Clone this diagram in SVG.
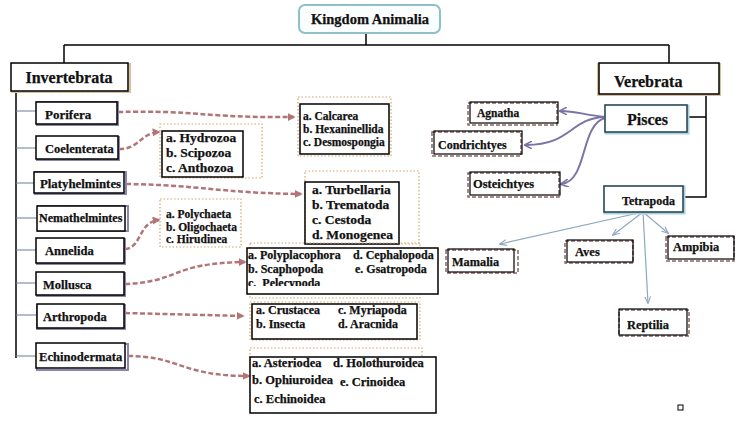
<svg xmlns="http://www.w3.org/2000/svg" width="747" height="429" viewBox="0 0 747 429">
<defs>
<style>
text{font-family:"Liberation Serif","Times New Roman",serif;font-weight:bold;fill:#111;stroke:#111;stroke-width:0.25}
.box{fill:#fff;stroke:#000;stroke-width:1.5}
.shadowP{fill:none;stroke:#8b87aa;stroke-width:2}
.shadowO{fill:none;stroke:#dcc09a;stroke-width:2}
.dot{fill:none;stroke:#d8a36a;stroke-width:1.2;stroke-dasharray:1.5 2}
.dash{fill:none;stroke:#b27577;stroke-width:2.5;stroke-dasharray:5 2.5}
.pur{fill:none;stroke:#7c72a6;stroke-width:2}
.blu{fill:none;stroke:#8ea8c0;stroke-width:1.2}
.tree{fill:none;stroke:#000;stroke-width:1.5}
.br{fill:none;stroke:#6c7a98;stroke-width:1.2}
.cls{fill:none;stroke:#8a6464;stroke-width:1.5;stroke-dasharray:4 2}
.fish{fill:#fff;stroke:#1f3f50;stroke-width:1.5}
.fishS{fill:none;stroke:#a9d2de;stroke-width:3}
</style>
<marker id="ad" viewBox="0 0 10 10" refX="8" refY="5" markerWidth="3.2" markerHeight="3.2" orient="auto" markerUnits="strokeWidth">
<path d="M0,0 L10,5 L0,10 z" fill="#b27577"/>
</marker>
<marker id="ap" viewBox="0 0 10 10" refX="8" refY="5" markerWidth="4" markerHeight="4" orient="auto" markerUnits="strokeWidth">
<path d="M0,0 L10,5 L0,10" fill="none" stroke="#7c72a6" stroke-width="2"/>
</marker>
<marker id="ab" viewBox="0 0 10 10" refX="9" refY="5" markerWidth="6" markerHeight="6" orient="auto" markerUnits="strokeWidth">
<path d="M0,1 L10,5 L0,9" fill="none" stroke="#8ea8c0" stroke-width="1.5"/>
</marker>
<clipPath id="clipMol"><rect x="240" y="240" width="200" height="46"/></clipPath>
</defs>

<g id="connectors">
<path class="tree" d="M366,33 V45 M64,45 H669 M64,45 V63 M669,45 V63"/>
<path class="tree" d="M16,91 V358"/>
<path class="br" d="M16,111 H36 M16,148 H36 M16,183 H34 M16,218 H37 M16,250 H36 M16,283 H36 M16,315 H37 M16,356 H36"/>
<path class="tree" d="M719,94 H706 V197 H684 M706,117 H688"/>
<path class="dash" marker-end="url(#ad)" d="M118,112 C200,110 200,118 294,117"/>
<path class="dash" marker-end="url(#ad)" d="M119,149 C140,149 140,133 159,132"/>
<path class="dash" marker-end="url(#ad)" d="M126,184 C200,185 220,193 301,194"/>
<path class="dash" marker-end="url(#ad)" d="M125,249 C142,248 138,222 159,220"/>
<path class="dash" marker-end="url(#ad)" d="M125,284 C180,282 170,263 245,262"/>
<path class="dash" marker-end="url(#ad)" d="M125,313 L243,316"/>
<path class="dash" marker-end="url(#ad)" d="M128,356 C180,356 180,376 249,376"/>
<path class="pur" marker-end="url(#ap)" d="M605,117 C585,115 575,111 561,111"/>
<path class="pur" marker-end="url(#ap)" d="M605,117 C570,118 572,145 526,145"/>
<path class="pur" marker-end="url(#ap)" d="M605,118 C580,125 588,180 562,184"/>
<path class="blu" marker-end="url(#ab)" d="M643,212 L500,244"/>
<path class="blu" marker-end="url(#ab)" d="M643,212 L613,235"/>
<path class="blu" marker-end="url(#ab)" d="M643,212 L648,303"/>
<path class="blu" marker-end="url(#ab)" d="M643,212 L668,233"/>
</g>

<g id="kingdom">
<rect x="299" y="5" width="141" height="28" rx="6" fill="#fbfefe" stroke="#8fbfcb" stroke-width="2"/>
<text x="370" y="24" text-anchor="middle" font-size="14.5">Kingdom Animalia</text>
</g>

<g id="invertebrata">
<rect class="shadowO" x="12" y="64" width="118" height="28"/>
<rect class="box" x="11" y="63" width="117" height="28"/>
<text x="69" y="83" text-anchor="middle" font-size="16">Invertebrata</text>
</g>

<g id="porifera"><rect class="shadowP" x="37" y="102" width="81" height="23"/><rect class="box" x="36" y="102" width="81" height="22"/><text x="45" y="119" font-size="13">Porifera</text></g>
<g id="coelenterata"><rect class="shadowP" x="37" y="137" width="82" height="23"/><rect class="box" x="36" y="136" width="82" height="23"/><text x="45" y="153" font-size="12.5">Coelenterata</text></g>
<g id="platyhelmintes"><rect class="shadowP" x="35" y="172" width="91" height="22"/><rect class="box" x="34" y="172" width="90" height="21"/><text x="40" y="188" font-size="12.8">Platyhelmintes</text></g>
<g id="nemathelmintes"><rect class="shadowP" x="38" y="206" width="90" height="25"/><rect class="box" x="37" y="206" width="88" height="25"/><text x="39" y="222" font-size="12">Nemathelmintes</text></g>
<g id="annelida"><rect class="shadowP" x="37" y="239" width="88" height="25"/><rect class="box" x="36" y="238" width="88" height="25"/><text x="45" y="255" font-size="12.5">Annelida</text></g>
<g id="mollusca"><rect class="shadowP" x="37" y="273" width="88" height="23"/><rect class="box" x="36" y="272" width="88" height="23"/><text x="43" y="289" font-size="12.5">Mollusca</text></g>
<g id="arthropoda"><rect class="shadowP" x="37" y="305" width="88" height="24"/><rect class="box" x="37" y="304" width="87" height="24"/><text x="43" y="321" font-size="12.5">Arthropoda</text></g>
<g id="echinodermata"><rect class="shadowP" x="37" y="344" width="91" height="26"/><rect class="box" x="36" y="343" width="89" height="25"/><text x="39" y="361" font-size="12.6">Echinodermata</text></g>

<g id="porifera-classes">
<rect class="dot" x="298" y="97" width="93" height="59"/>
<rect class="box" x="300" y="104" width="89" height="50"/>
<text x="303" y="120" font-size="11.5">a. Calcarea</text>
<text x="303" y="133" font-size="11.5">b. Hexaninellida</text>
<text x="303" y="146" font-size="11.5">c. Desmospongia</text>
</g>
<g id="coelenterata-classes">
<rect class="dot" x="160" y="124" width="102" height="54"/>
<rect class="box" x="162" y="131" width="81" height="46"/>
<text x="166" y="142" font-size="13.5">a. Hydrozoa</text>
<text x="166" y="157" font-size="13.5">b. Scipozoa</text>
<text x="166" y="172" font-size="13.5">c. Anthozoa</text>
</g>
<g id="platyhelmintes-classes">
<rect class="dot" x="305" y="171" width="114" height="73"/>
<rect class="box" x="305" y="182" width="94" height="62"/>
<text x="312" y="194" font-size="13.5">a. Turbellaria</text>
<text x="312" y="209" font-size="13.5">b. Trematoda</text>
<text x="312" y="224" font-size="13.5">c. Cestoda</text>
<text x="312" y="239" font-size="13.5">d. Monogenea</text>
</g>
<g id="annelida-classes">
<rect class="dot" x="160" y="199" width="81" height="48"/>
<text x="166" y="218" font-size="11.5">a. Polychaeta</text>
<text x="166" y="231" font-size="11.5">b. Oligochaeta</text>
<text x="166" y="243" font-size="11.5">c. Hirudinea</text>
</g>
<g id="mollusca-classes">
<rect class="dot" x="250" y="243" width="170" height="55"/>
<rect class="box" x="247" y="248" width="191" height="46"/>
<text x="248" y="259" font-size="12">a. Polyplacophora</text>
<text x="353" y="259" font-size="12">d. Cephalopoda</text>
<text x="248" y="273" font-size="12">b. Scaphopoda</text>
<text x="355" y="273" font-size="12">e. Gsatropoda</text>
<text x="248" y="287" font-size="12" clip-path="url(#clipMol)" xml:space="preserve">c.  Pelecypoda</text>
</g>
<g id="arthropoda-classes">
<rect class="dot" x="250" y="302" width="170" height="38"/>
<rect class="box" x="252" y="304" width="165" height="35"/>
<text x="256" y="314" font-size="12">a. Crustacea</text>
<text x="338" y="314" font-size="12">c. Myriapoda</text>
<text x="256" y="328" font-size="12">b. Insecta</text>
<text x="338" y="328" font-size="12">d. Aracnida</text>
</g>
<g id="echinodermata-classes">
<rect class="dot" x="250" y="348" width="172" height="50"/>
<rect class="box" x="250" y="357" width="186" height="56"/>
<text x="252" y="367" font-size="12.5">a. Asteriodea</text>
<text x="333" y="367" font-size="12.5">d. Holothuroidea</text>
<text x="252" y="384" font-size="12.5">b. Ophiuroidea</text>
<text x="340" y="386" font-size="12.5">e. Crinoidea</text>
<text x="254" y="403" font-size="12.5">c. Echinoidea</text>
</g>

<g id="verebrata">
<rect class="shadowO" x="598" y="64" width="122" height="31"/>
<rect class="box" x="599" y="63" width="120" height="31"/>
<text x="614" y="87" font-size="16">Verebrata</text>
</g>
<g id="pisces">
<rect class="fishS" x="606" y="106" width="82" height="27"/>
<rect class="fish" x="605" y="105" width="82" height="27"/>
<text x="627" y="125" font-size="16">Pisces</text>
</g>
<g id="tetrapoda">
<rect class="fishS" x="605" y="187" width="79" height="26"/>
<rect class="fish" x="604" y="186" width="79" height="26"/>
<text x="622" y="205" font-size="12">Tetrapoda</text>
</g>

<g id="agnatha"><rect class="cls" x="468" y="103" width="89" height="22"/><rect fill="none" stroke="#000" stroke-width="1.2" x="470" y="102" width="88" height="21"/><text x="477" y="117" font-size="11.5">Agnatha</text></g>
<g id="condrichtyes"><rect class="cls" x="432" y="132" width="89" height="24"/><rect fill="none" stroke="#000" stroke-width="1.2" x="434" y="131" width="88" height="23"/><text x="438" y="149" font-size="12">Condrichtyes</text></g>
<g id="osteichtyes"><rect class="cls" x="468" y="173" width="91" height="24"/><rect fill="none" stroke="#000" stroke-width="1.2" x="470" y="172" width="90" height="23"/><text x="473" y="188" font-size="12.5">Osteichtyes</text></g>

<g id="mamalia"><rect class="cls" x="446" y="250" width="72" height="23"/><rect fill="none" stroke="#000" stroke-width="1.2" x="448" y="249" width="66" height="23"/><text x="452" y="266" font-size="12.3">Mamalia</text></g>
<g id="aves"><rect class="cls" x="565" y="241" width="68" height="22"/><rect fill="none" stroke="#000" stroke-width="1.2" x="567" y="240" width="66" height="22"/><text x="575" y="256" font-size="12.5">Aves</text></g>
<g id="ampibia"><rect class="cls" x="666" y="237" width="68" height="24"/><rect fill="none" stroke="#000" stroke-width="1.2" x="668" y="236" width="66" height="23"/><text x="673" y="251" font-size="12.4">Ampibia</text></g>
<g id="reptilia"><rect class="cls" x="619" y="310" width="70" height="26"/><rect fill="none" stroke="#000" stroke-width="1.2" x="619" y="309" width="68" height="26"/><text x="627" y="329" font-size="12.4">Reptilia</text></g>

<rect x="678" y="405" width="5" height="5" fill="none" stroke="#000" stroke-width="1"/>
</svg>
